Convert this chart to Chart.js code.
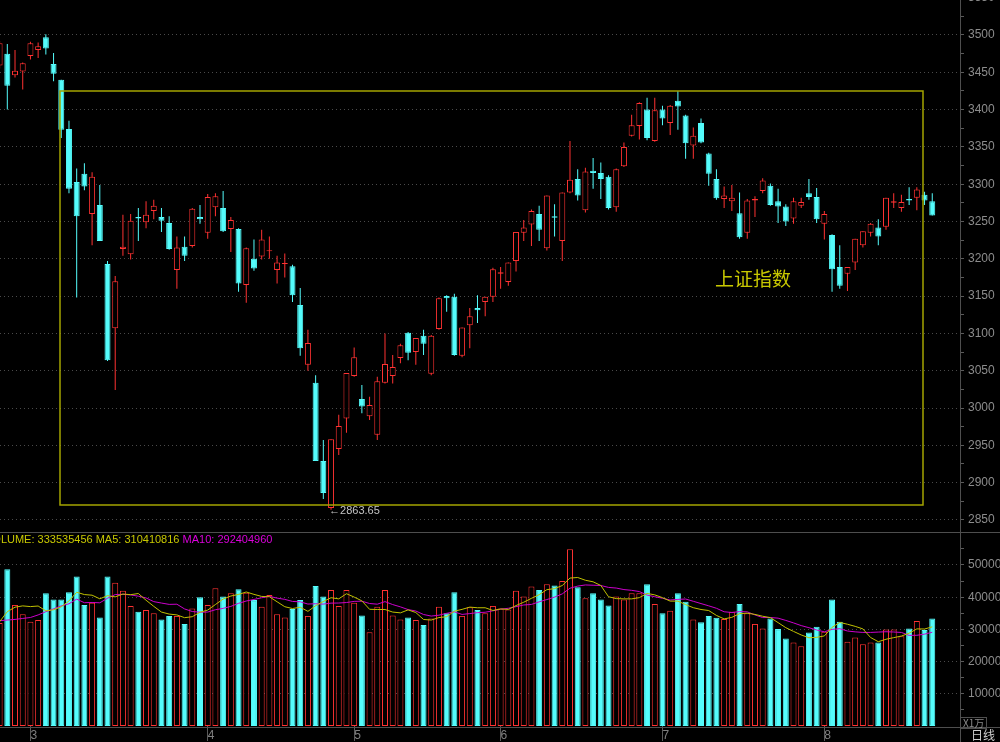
<!DOCTYPE html>
<html lang="zh-CN">
<head>
  <meta charset="UTF-8">
  <title>上证指数 日线</title>
  <style>
    body {
      margin: 0;
      padding: 0;
      background: #000;
      overflow: hidden;
    }
    #wrap {
      position: relative;
      width: 1000px;
      height: 742px;
      background: #000;
      overflow: hidden;
      font-family: 'Liberation Sans', Arial, sans-serif;
    }
    .pane { position: absolute; left: 0; width: 1000px; }
    #pricePane { top: 0; height: 532px; }
    #volPane { top: 532px; height: 210px; }
    .rule { position: absolute; background: #4e4e4e; }
    #legend {
      position: absolute;
      left: 0;
      top: 533px;
      width: 950px;
      overflow: hidden;
      white-space: nowrap;
      font-size: 11px;
      line-height: 13px;
    }
    #legend .inner { margin-left: -15px; }
    .yel { color: #c8c800; }
    .mag { color: #dc00dc; }
    #title {
      position: absolute;
      left: 715px;
      top: 266px;
      font-family: 'Noto Sans CJK SC', sans-serif;
      font-size: 19px;
      line-height: 24px;
      color: #c8c800;
    }
    #unit {
      position: absolute;
      left: 960px;
      top: 717px;
      height: 10px;
      padding: 0 2px;
      border: 1px solid #4e4e4e;
      font-size: 10px;
      line-height: 10px;
      color: #8a8a8a;
      font-family: 'Noto Sans CJK SC', sans-serif;
    }
    #period {
      position: absolute;
      left: 971px;
      top: 728px;
      font-size: 12px;
      line-height: 14px;
      color: #d0d0d0;
      font-family: 'Noto Sans CJK SC', sans-serif;
    }
  </style>
</head>
<body>
<div id="wrap">
  <div class="pane" id="pricePane"><canvas id="priceChart" width="1000" height="532"></canvas></div>
  <div class="pane" id="volPane"><canvas id="volChart" width="1000" height="210"></canvas></div>

  <div class="rule" style="left:960px; top:0; width:1px; height:742px;"></div>
  <div class="rule" style="left:0; top:532px; width:1000px; height:1px;"></div>
  <div class="rule" style="left:0; top:727px; width:1000px; height:1px;"></div>

  <div id="legend"><div class="inner"><span class="yel">VOLUME: 333535456 MA5: 310410816</span> <span class="mag">MA10: 292404960</span></div></div>
  <div id="title">上证指数</div>
  <div id="unit">X1万</div>
  <div id="period">日线</div>
</div>

<script src="https://cdn.jsdelivr.net/npm/chart.js"></script>
<script>
  // daily candles, 2022-02-23 .. 2022-08-19
  const opens = [
    3459, 3475, 3446, 3451, 3472, 3480, 3497, 3461, 3440, 3374,
    3303, 3314, 3260, 3272, 3193, 3107, 3213, 3206, 3256, 3249,
    3264, 3256, 3248, 3185, 3216, 3217, 3256, 3235, 3269, 3268,
    3240, 3240, 3165, 3200, 3203, 3210, 3185, 3193, 3190, 3138,
    3058, 3034, 2929, 2866, 2945, 2986, 3043, 3012, 2989, 2964,
    3034, 3043, 3067, 3101, 3075, 3097, 3046, 3106, 3150, 3149,
    3070, 3111, 3134, 3142, 3149, 3180, 3169, 3197, 3235, 3246,
    3260, 3214, 3257, 3224, 3289, 3307, 3265, 3318, 3315, 3310,
    3269, 3324, 3365, 3378, 3400, 3358, 3400, 3382, 3412, 3392,
    3352, 3382, 3341, 3307, 3280, 3277, 3261, 3235, 3278, 3291,
    3298, 3277, 3270, 3254, 3271, 3288, 3283, 3247, 3232, 3189,
    3180, 3195, 3218, 3235, 3242, 3243, 3275, 3268, 3280, 3282,
    3286, 3277
  ];
  const highs = [
    3492, 3488, 3480, 3463, 3491, 3490, 3501, 3476, 3440, 3385,
    3321, 3328, 3316, 3299, 3197, 3177, 3259, 3260, 3268, 3277,
    3279, 3268, 3257, 3230, 3230, 3268, 3272, 3287, 3288, 3291,
    3256, 3241, 3215, 3226, 3239, 3230, 3204, 3207, 3192, 3161,
    3105, 3044, 2957, 2958, 2991, 3047, 3081, 3031, 3015, 3042,
    3100, 3071, 3086, 3102, 3094, 3105, 3098, 3148, 3151, 3153,
    3108, 3134, 3151, 3149, 3188, 3189, 3195, 3236, 3252, 3266,
    3271, 3285, 3273, 3289, 3358, 3320, 3322, 3335, 3329, 3312,
    3321, 3356, 3393, 3410, 3416, 3416, 3405, 3406, 3425, 3393,
    3376, 3388, 3342, 3320, 3297, 3299, 3289, 3280, 3284, 3308,
    3301, 3294, 3273, 3282, 3282, 3307, 3295, 3264, 3233, 3218,
    3189, 3227, 3237, 3248, 3253, 3282, 3288, 3286, 3296, 3296,
    3290, 3288
  ];
  const lows = [
    3455, 3400, 3443, 3427, 3467, 3469, 3474, 3438, 3362, 3288,
    3148, 3292, 3218, 3224, 3063, 3024, 3204, 3199, 3224, 3241,
    3253, 3236, 3212, 3160, 3197, 3215, 3247, 3227, 3257, 3236,
    3209, 3156, 3141, 3184, 3199, 3200, 3167, 3175, 3142, 3070,
    3050, 2929, 2878, 2863.65, 2937, 2967, 3042, 2993, 2984, 2957,
    3033, 3033, 3060, 3064, 3058, 3071, 3044, 3105, 3129, 3070,
    3068, 3080, 3114, 3123, 3142, 3160, 3164, 3183, 3224, 3217,
    3224, 3211, 3230, 3197, 3288, 3278, 3262, 3294, 3280, 3266,
    3263, 3323, 3364, 3360, 3359, 3357, 3379, 3366, 3373, 3334,
    3334, 3355, 3298, 3279, 3268, 3264, 3227, 3227, 3256, 3288,
    3271, 3248, 3244, 3247, 3268, 3279, 3248, 3226, 3156, 3160,
    3157, 3185, 3215, 3230, 3218, 3239, 3268, 3263, 3272, 3265,
    3272, 3258
  ];
  const closes = [
    3489, 3432, 3452, 3462, 3489, 3485, 3482, 3448, 3373, 3294,
    3257, 3297, 3310, 3224, 3064, 3170, 3216, 3251, 3254, 3259,
    3271, 3251, 3213, 3215, 3204, 3267, 3253, 3283, 3284, 3237,
    3252, 3167, 3214, 3187, 3226, 3211, 3195, 3194, 3151, 3080,
    3087, 2929, 2886, 2958, 2976, 3047, 3068, 3002, 3004, 3036,
    3059, 3055, 3084, 3074, 3094, 3086, 3097, 3147, 3147, 3071,
    3108, 3123, 3131, 3149, 3186, 3182, 3195, 3236, 3242, 3264,
    3239, 3285, 3255, 3289, 3306, 3285, 3317, 3315, 3307, 3268,
    3320, 3350, 3379, 3409, 3362, 3399, 3388, 3405, 3404, 3355,
    3365, 3356, 3314, 3281, 3285, 3282, 3229, 3278, 3280, 3305,
    3272, 3270, 3250, 3277, 3276, 3283, 3253, 3260, 3186, 3164,
    3189, 3227, 3237, 3247, 3230, 3282, 3277, 3276, 3278, 3293,
    3278, 3258
  ];
  // volume, unit 万
  const volumes = [
    32000, 48700, 37600, 34700, 32400, 32900, 41200, 39300, 39300, 41500,
    46400, 37600, 38300, 33700, 46400, 44500, 42000, 37300, 35500, 36000,
    35000, 33100, 34200, 34200, 31700, 36500, 40000, 37600, 42800, 40200,
    41200, 42500, 41400, 39100, 37000, 40700, 34700, 33700, 36300, 39100,
    34200, 43500, 40200, 42200, 37300, 42200, 38300, 34300, 29100, 37000,
    42200, 34300, 33100, 33700, 32900, 31400, 33400, 37000, 35000, 41500,
    34200, 36900, 36000, 35000, 37300, 36500, 36200, 42000, 40200, 43300,
    42200, 44000, 43600, 45000, 54900, 43100, 39700, 41200, 39300, 37400,
    40200, 39300, 41200, 41200, 44000, 37900, 35000, 35800, 41200, 38600,
    33100, 32200, 34200, 33600, 33200, 35500, 37900, 35000, 31700, 30300,
    33400, 30100, 27200, 25900, 24800, 29000, 30800, 29300, 39300, 32400,
    26200, 27500, 25400, 25900, 25900, 30000, 30000, 27900, 30300, 32600,
    29800, 33354
  ];
  // moving averages at the left edge, where their window starts before the chart
  const ma5Head = [32400, 35500, 36900, 37300];
  const ma10Head = [32700, 32900, 33100, 33400, 33700, 34500, 35500, 36400, 37300];

  const monthStarts = [4, 27, 46, 65, 86, 107];
  const monthLabels = ['3', '4', '5', '6', '7', '8'];
  const priceTicks = [2850, 2875, 2900, 2925, 2950, 2975, 3000, 3025, 3050, 3075, 3100, 3125, 3150,
    3175, 3200, 3225, 3250, 3275, 3300, 3325, 3350, 3375, 3400, 3425, 3450, 3475, 3500, 3525, 3550];
  const volTicks = [5000, 10000, 15000, 20000, 25000, 30000, 35000, 40000, 45000, 50000, 55000];

  const lowMark = { index: 43, value: 2863.65 };
  const box = { from: 7.84, to: 119.8, top: 3425, bottom: 2870 };

  const RED = '#ff3232';
  const CYAN = '#54fcfc';
  const GRID = '#4a4a4a';
  const TICK = '#5a5a5a';
  const LABEL = '#8c8c8c';
  const xMin = 0.052, xMax = 124.6;

  Chart.defaults.font.family = "'Liberation Sans', Arial, sans-serif";

  const up = closes.map((c, i) => c >= opens[i]);
  const idx = closes.map((c, i) => i);

  function movingAvg(values, n, head) {
    return values.map((v, i) => {
      if (i < n - 1) return head[i];
      let s = 0;
      for (let k = i - n + 1; k <= i; k++) s += values[k];
      return s / n;
    });
  }
  const ma5 = movingAvg(volumes, 5, ma5Head);
  const ma10 = movingAvg(volumes, 10, ma10Head);

  function rightAxis(min, max, ticks, showLabel) {
    return {
      position: 'right',
      min: min,
      max: max,
      afterBuildTicks: s => { s.ticks = ticks.map(v => ({ value: v })); },
      ticks: {
        autoSkip: false,
        padding: 4,
        color: LABEL,
        font: { size: 12 },
        callback: v => showLabel(v) ? String(v) : ''
      },
      grid: {
        color: c => (c.tick && showLabel(c.tick.value)) ? GRID : 'rgba(0,0,0,0)',
        lineWidth: 1,
        tickLength: 4,
        tickColor: TICK
      },
      border: { display: false, dash: [1, 3] },
      afterFit: s => { s.width = 40; s.paddingTop = 0; s.paddingBottom = 0; }
    };
  }

  // yellow box and the low marker, placed through the scales
  const overlay = {
    id: 'overlay',
    afterDatasetsDraw(chart) {
      const { ctx, scales: { x, y } } = chart;
      const x0 = Math.round(x.getPixelForValue(box.from));
      const x1 = Math.round(x.getPixelForValue(box.to));
      const y0 = Math.round(y.getPixelForValue(box.top));
      const y1 = Math.round(y.getPixelForValue(box.bottom));
      ctx.save();
      ctx.strokeStyle = '#a4a400';
      ctx.lineWidth = 1.5;
      ctx.strokeRect(x0, y0, x1 - x0, y1 - y0);

      ctx.fillStyle = '#c4c4c4';
      ctx.font = "11px 'Liberation Sans', Arial, sans-serif";
      ctx.textBaseline = 'middle';
      ctx.fillText('\u2190' + lowMark.value.toFixed(2),
        x.getPixelForValue(lowMark.index) - 2, y.getPixelForValue(lowMark.value) + 1);
      ctx.restore();
    }
  };

  new Chart(document.getElementById('priceChart'), {
    type: 'bar',
    data: {
      datasets: [{
        label: 'body',
        data: idx.map(i => ({ x: i, y: [opens[i], closes[i]] })),
        backgroundColor: up.map(u => u ? '#000000' : CYAN),
        borderColor: up.map(u => u ? RED : CYAN),
        borderWidth: 1,
        borderSkipped: false,
        barThickness: 6,
        minBarLength: 1,
        inflateAmount: 0,
        grouped: false,
        order: 0
      }, {
        label: 'wick',
        data: idx.map(i => ({ x: i, y: [lows[i], highs[i]] })),
        backgroundColor: up.map(u => u ? RED : CYAN),
        borderWidth: 0,
        barThickness: 1,
        inflateAmount: 0,
        grouped: false,
        order: 1
      }]
    },
    options: {
      responsive: false,
      animation: false,
      events: [],
      layout: { padding: 0 },
      plugins: { legend: { display: false }, tooltip: { enabled: false } },
      scales: {
        x: { type: 'linear', min: xMin, max: xMax, offset: false, display: false },
        y: rightAxis(2833.8, 3546.9, priceTicks, v => v % 50 === 0)
      }
    },
    plugins: [overlay]
  });

  new Chart(document.getElementById('volChart'), {
    type: 'bar',
    data: {
      datasets: [{
        type: 'line',
        label: 'MA5',
        data: idx.map(i => ({ x: i, y: ma5[i] })),
        borderColor: '#c0c000',
        borderWidth: 1,
        pointRadius: 0,
        tension: 0,
        order: 0
      }, {
        type: 'line',
        label: 'MA10',
        data: idx.map(i => ({ x: i, y: ma10[i] })),
        borderColor: '#cc00cc',
        borderWidth: 1,
        pointRadius: 0,
        tension: 0,
        order: 1
      }, {
        label: 'VOLUME',
        data: idx.map(i => ({ x: i, y: volumes[i] })),
        backgroundColor: up.map(u => u ? '#000000' : CYAN),
        borderColor: up.map(u => u ? RED : CYAN),
        borderWidth: 1,
        borderSkipped: false,
        barThickness: 6,
        inflateAmount: 0,
        grouped: false,
        order: 2
      }]
    },
    options: {
      responsive: false,
      animation: false,
      events: [],
      layout: { padding: 0 },
      plugins: { legend: { display: false }, tooltip: { enabled: false } },
      scales: {
        x: {
          type: 'linear',
          position: 'bottom',
          min: xMin,
          max: xMax,
          offset: false,
          afterBuildTicks: s => { s.ticks = monthStarts.map(v => ({ value: v })); },
          ticks: {
            autoSkip: false,
            maxRotation: 0,
            align: 'start',
            padding: -13,
            color: '#808080',
            font: { size: 12 },
            callback: (v, i) => monthLabels[i]
          },
          grid: { offset: false, drawOnChartArea: false, tickLength: 15, tickColor: TICK },
          border: { display: false },
          afterFit: s => { s.height = 16; s.paddingLeft = 0; s.paddingRight = 0; }
        },
        y: rightAxis(0, 60248, volTicks, v => v % 10000 === 0)
      }
    }
  });
</script>
</body>
</html>
